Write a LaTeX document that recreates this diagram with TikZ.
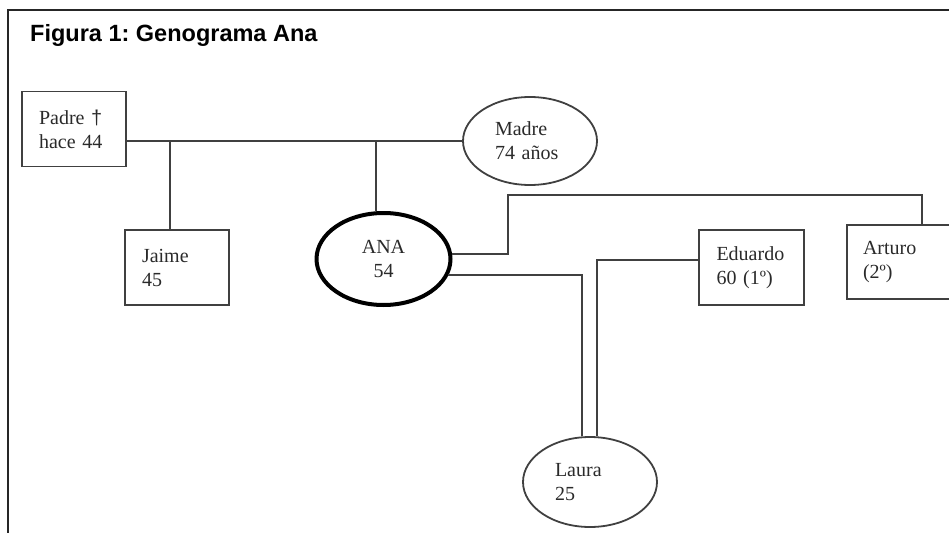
\documentclass[tikz,border=0pt]{standalone}
\usepackage{fontspec}
\setmainfont{Liberation Serif}
\newfontfamily\sansfont{Liberation Sans}
\usetikzlibrary{shapes.geometric}
\definecolor{linea}{HTML}{404040}
\definecolor{texto}{HTML}{2A2A2A}

\begin{document}
\begin{tikzpicture}[x=1pt, y=-1pt,
    persona/.style={draw=linea, line width=1.8pt, align=left, inner sep=0pt,
        text width=70pt, font=\fontsize{20}{24}\selectfont, text=texto},
    hombre/.style={persona, rectangle, minimum width=104pt, minimum height=75pt},
    mujer/.style={persona, ellipse, minimum width=134pt, minimum height=90pt},
    enlace/.style={draw=linea, line width=1.5pt},
    marco/.style={draw=black!85, line width=2.8pt}]
    \useasboundingbox (0,0) rectangle (949,532);
    \clip (0,0) rectangle (949,532);

    % Frame and title
    \draw[marco] (8,600) -- (8,10) -- (1000,10);
    \node[anchor=base west, inner sep=0pt, font=\frenchspacing\sansfont\bfseries\fontsize{23.5}{28}\selectfont] (titulo) at (30,41.5) {Figura 1: Genograma Ana};

    % Persons
    \node[hombre] (padre) at (74,129) {Padre {\sansfont †}\\hace 44};
    \node[mujer, minimum height=88pt] (madre) at (530,141) {Madre\\74 años};
    \node[hombre] (jaime) at (177,267.5) {Jaime\\45};
    \node[mujer, draw=black, line width=4pt, align=center, minimum height=92pt] (ana) at (383.5,259) {ANA\\54};
    \node[hombre, minimum width=105pt] (eduardo) at (751.5,267.5) {Eduardo\\60 (1º)};
    \node[hombre, minimum width=150pt, minimum height=74pt, text width=118pt] (arturo) at (922,262) {Arturo\\(2º)};
    \node[mujer] (laura) at (590,482) {Laura\\25};

    % Parents and children
    \draw[enlace] (padre.east |- madre.west) -- (madre.west);
    \coordinate (hijo1) at (170,141);
    \coordinate (hijo2) at (376,141);
    \draw[enlace] (hijo1) -- (hijo1 |- jaime.north);
    \draw[enlace] (hijo2) -- (hijo2 |- ana.north);

    % Couples and daughter
    \coordinate (codo) at (508,195);
    \draw[enlace] (ana.4) -| (codo) -| (arturo.north);
    \draw[enlace] (ana.-14) -| ([xshift=-8pt]laura.north);
    \draw[enlace] ([yshift=7.5pt]eduardo.west) -| ([xshift=7pt]laura.north);
\end{tikzpicture}
\end{document}
